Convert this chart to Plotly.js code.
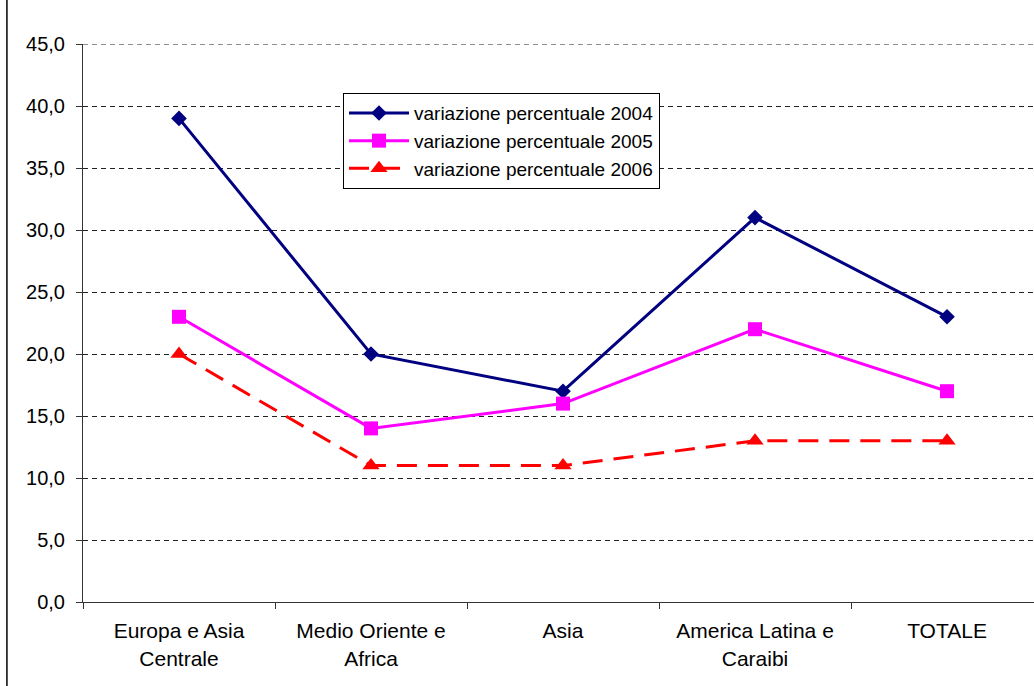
<!DOCTYPE html>
<html>
<head>
<meta charset="utf-8">
<script src="https://cdn.plot.ly/plotly-3.0.1.min.js"></script>
<style>html,body{margin:0;padding:0;background:#fff;}#chart{width:1034px;height:686px;}</style>
</head>
<body>
<div id="chart"></div>
<script>
const categories = ["Europa e Asia<br>Centrale", "Medio Oriente e<br>Africa", "Asia", "America Latina e<br>Caraibi", "TOTALE"];
const seriesNames = ["variazione percentuale 2004", "variazione percentuale 2005", "variazione percentuale 2006"];
const values2004 = [39, 20, 17, 31, 23];
const values2005 = [23, 14, 16, 22, 17];
const values2006 = [20, 11, 11, 13, 13];
const yTicks = [0, 5, 10, 15, 20, 25, 30, 35, 40, 45];

const fontFam = "Liberation Sans, Arial, sans-serif";
const traces = [
  {x: categories, y: values2004, name: seriesNames[0], type: "scatter", mode: "lines+markers",
   line: {color: "#000080", width: 3}, marker: {symbol: "diamond", size: 12, color: "#000080"}},
  {x: categories, y: values2005, name: seriesNames[1], type: "scatter", mode: "lines+markers",
   line: {color: "#FF00FF", width: 3}, marker: {symbol: "square", size: 14, color: "#FF00FF"}},
  {x: categories, y: values2006, name: seriesNames[2], type: "scatter", mode: "lines+markers",
   line: {color: "#FF0000", width: 3, dash: "20px,11px"}, marker: {symbol: "triangle-up", size: 15, color: "#FF0000"}}
];

const layout = {
  width: 1034, height: 686,
  margin: {l: 83, r: 0, t: 44, b: 84},
  paper_bgcolor: "#fff", plot_bgcolor: "#fff",
  separators: ",.",
  font: {family: fontFam, size: 19, color: "#000"},
  showlegend: true,
  legend: {x: 0.2734, y: 0.912, xanchor: "left", yanchor: "top", bgcolor: "#fff",
           bordercolor: "#000", borderwidth: 1, font: {size: 19, family: fontFam}, itemwidth: 60,
           tracegroupgap: 0},
  xaxis: {type: "category", range: [-0.5, 4.453], tickson: "boundaries", ticks: "outside", ticklen: 6,
          tickcolor: "#333", showline: true, linecolor: "#333", linewidth: 1, showgrid: false,
          zeroline: false, tickfont: {size: 21}, ticklabelstandoff: 10, fixedrange: true},
  yaxis: {range: [0, 45], tickmode: "array", tickvals: yTicks, tickformat: ".1f", ticks: "outside",
          ticklen: 6, tickcolor: "#333", showline: true, linecolor: "#333", linewidth: 1,
          showgrid: true, gridcolor: "#222", gridwidth: 1, griddash: "5px,4px", zeroline: false,
          tickfont: {size: 20}, ticklabelstandoff: 7, fixedrange: true},
  shapes: [
    {type: "line", xref: "paper", yref: "paper", x0: -0.08, x1: -0.08, y0: -0.2, y1: 1.1,
     line: {color: "#000", width: 1.5}},
    {type: "line", xref: "paper", yref: "y", x0: 0, x1: 1, y0: 45, y1: 45, layer: "below",
     line: {color: "#222", width: 1, dash: "5px,4px"}}
  ]
};

Plotly.newPlot("chart", traces, layout, {displayModeBar: false, staticPlot: true});
</script>
</body>
</html>
